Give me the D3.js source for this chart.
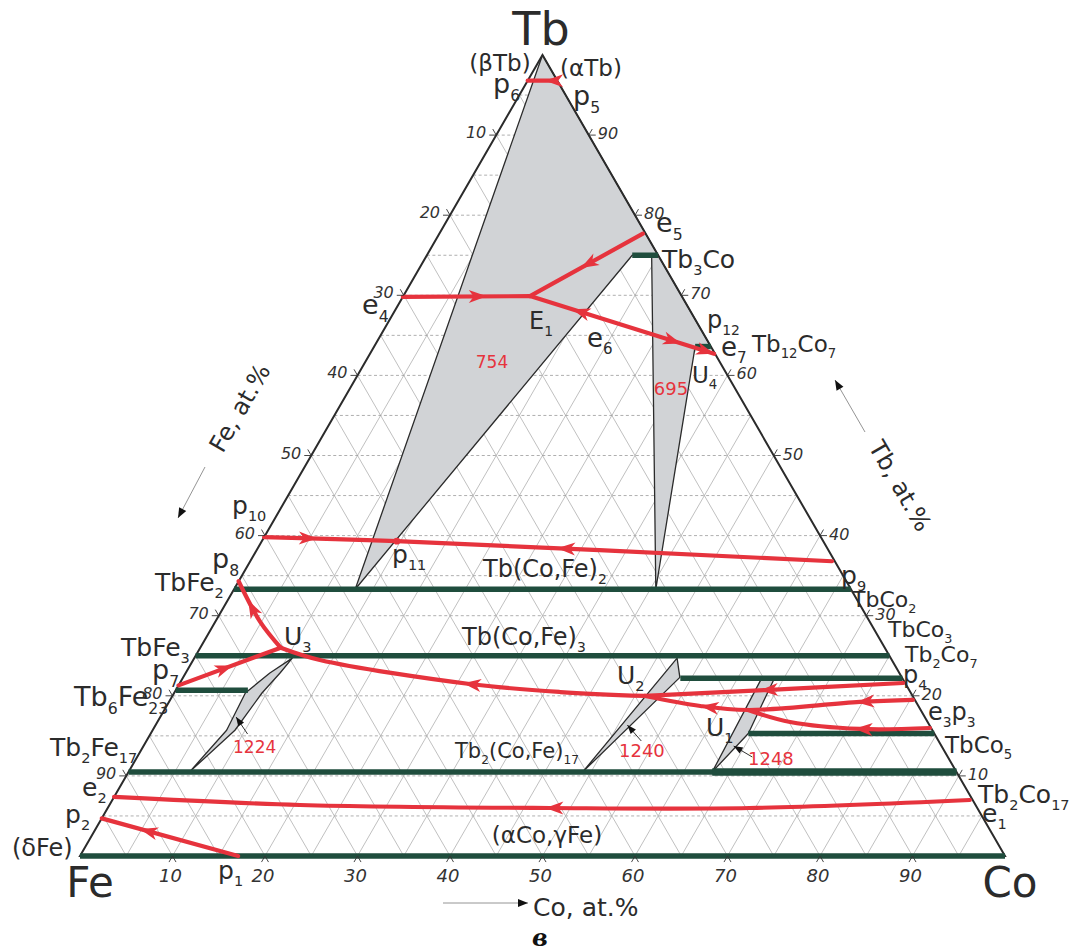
<!DOCTYPE html>
<html>
<head>
<meta charset="utf-8">
<script src="https://cdn.jsdelivr.net/npm/d3@7"></script>
<style>
  body { margin: 0; background: #fff; }
  svg { display: block; }
</style>
</head>
<body>
<svg id="chart" width="1080" height="952"></svg>
<script>
// Tb–Fe–Co ternary diagram: liquidus projection.
// Every composition is written as [Co at.%, Tb at.%]; Fe is the remainder.

const gridStep = 5;
const coTicks = [10, 20, 30, 40, 50, 60, 70, 80, 90];   // bottom edge, Co at.%
const feTicks = [10, 20, 30, 40, 50, 60, 70, 80, 90];   // left edge, Fe at.%
const tbTicks = [90, 80, 70, 60, 50, 40, 30, 20, 10];   // right edge, Tb at.%

// Phases and their extent across the section: Tb level, Co range
const tieLines = [
  { tb: 0,    co0: 0,    co1: 100 },   // (αCo,γFe)
  { tb: 75,   co0: 22.2, co1: 25 },    // Tb3Co
  { tb: 63.6, co0: 34.7, co1: 36.4 },  // Tb12Co7
  { tb: 33.3, co0: 0,    co1: 66.7 },  // Tb(Co,Fe)2
  { tb: 25,   co0: 0,    co1: 75 },    // Tb(Co,Fe)3
  { tb: 22.2, co0: 53.8, co1: 77.8 },  // Tb2Co7
  { tb: 20.7, co0: 0,    co1: 7.8 },   // Tb6Fe23
  { tb: 15.3, co0: 64.6, co1: 84.7 },  // TbCo5
  { tb: 10.5, co0: 0,    co1: 89.5 }   // Tb2(Co,Fe)17
];
const tieLinesHeavy = [
  { tb: 10.5, co0: 63.1, co1: 89.5 }
];

// Three-phase fields with their invariant temperatures
const field754  = [[0, 100], [25, 75], [22.2, 75], [13.1, 33.3]];
const field695  = [[24.3, 75], [25, 75], [36.4, 63.6], [34.7, 63.6], [45.6, 33.3]];
const field1224 = [[6.6, 10.5], [8.0, 15.7], [7.7, 20.35], [9.1, 22.85], [10.6, 24.7],
                   [10.2, 22.85], [9.5, 20.35], [8.9, 15.7]];
const field1240 = [[49.1, 10.5], [52.2, 24.7], [53.7, 22.3]];
const field1248 = [[63.1, 10.5], [62.6, 22.2], [64.0, 22.0], [64.6, 15.3]];
const fields = [field754, field695, field1224, field1240, field1248];

// Monovariant liquidus valleys
const valleys = {
  p5p6:  [[2.9, 96.8], [0, 96.8]],
  e5E1:  [[22.0, 77.7], [13.7, 69.9]],
  e4E1:  [[0, 69.8], [13.7, 69.9]],
  E1e7:  [[13.7, 69.9], [37.2, 62.7]],
  p10p9: [[0, 39.8], [14.6, 39.3], [62.9, 36.8]],
  U3p8:  [[8.7, 26.0], [4.9, 29.2], [0, 34.3]],
  p7U3:  [[0, 21.3], [8.7, 26.0]],
  U3U2:  [[8.7, 26.0], [13.7, 24.47], [31.4, 21.47], [41.7, 20.47], [51.1, 19.98]],
  U2p4:  [[51.1, 19.98], [63.7, 20.72], [78.2, 21.6]],
  U2e3:  [[51.1, 19.98], [57.7, 18.73], [63.1, 18.23], [74.7, 19.23], [80.3, 19.48]],
  U1p3:  [[63.1, 18.23], [68.4, 16.73], [76.4, 15.86], [83.9, 15.98]],
  e2e1:  [[0, 7.37], [20.6, 6.37], [47.8, 5.99], [69.4, 5.99], [92.7, 6.99]],
  p1p2:  [[17.1, 0], [0, 4.7]]
};

// Direction marks: valley, fraction of its length, +1 along / -1 against its order
const valleyArrows = [
  ['p5p6', 0.35, 1],
  ['e5E1', 0.55, 1],
  ['e4E1', 0.66, 1],
  ['E1e7', 0.23, -1],
  ['E1e7', 0.82, 1],
  ['E1e7', 1.0, 1],
  ['p10p9', 0.093, 1],
  ['p10p9', 0.516, -1],
  ['U3p8', 0.73, 1],
  ['p7U3', 0.53, 1],
  ['U3U2', 0.505, -1],
  ['U2p4', 0.445, -1],
  ['U2e3', 0.21, -1],
  ['U2e3', 0.79, -1],
  ['U1p3', 0.59, -1],
  ['e2e1', 0.504, -1],
  ['p1p2', 0.72, 1]
];

const pointP11 = [14.6, 39.3];

// Callouts from the temperature labels to their narrow fields: [tail, tip]
const callouts = [
  [[10.5, 15.23], [8.2, 17.35]],
  [[53.5, 14.36], [51.0, 16.35]],
  [[66.5, 12.36], [63.8, 13.73]]
];

// ---------------------------------------------------------------
const svg = d3.select('#chart');
const X = d3.scaleLinear().domain([0, 100]).range([80, 1005]);
const Y = d3.scaleLinear().domain([0, 100]).range([856, 55]);
const proj = ([co, tb]) => [X(co + tb / 2), Y(tb)];

const RED = '#e6333d', GREEN = '#1f4d3d', GREY = '#d1d3d6', INK = '#2b2b2b';
const FONT = '"DejaVu Sans", "Noto Sans", sans-serif';

const line = d3.line().x(d => proj(d)[0]).y(d => proj(d)[1]);
const smooth = d3.line().x(d => proj(d)[0]).y(d => proj(d)[1]).curve(d3.curveCatmullRom.alpha(0.5));

// grid
const grid = svg.append('g');
for (let k = gridStep; k < 100; k += gridStep) {
  grid.append('path').attr('d', line([[0, k], [100 - k, k]]))
    .attr('stroke', '#9a9a9a').attr('stroke-width', 0.8).attr('stroke-dasharray', '3,2.5').attr('fill', 'none');
  grid.append('path').attr('d', line([[k, 0], [k, 100 - k]]))
    .attr('stroke', '#b0b0b0').attr('stroke-width', 0.8).attr('fill', 'none');
  grid.append('path').attr('d', line([[100 - k, 0], [0, 100 - k]]))
    .attr('stroke', '#b0b0b0').attr('stroke-width', 0.8).attr('fill', 'none');
}

// three-phase fields
svg.append('g').selectAll('path').data(fields).join('path')
  .attr('d', d => line(d) + 'Z')
  .attr('fill', GREY).attr('stroke', INK).attr('stroke-width', 1.3).attr('stroke-linejoin', 'round');

// triangle outline
svg.append('path').attr('d', line([[0, 0], [100, 0], [0, 100]]) + 'Z')
  .attr('fill', 'none').attr('stroke', INK).attr('stroke-width', 2).attr('stroke-linejoin', 'miter');

// phase tie lines
svg.append('g').selectAll('path').data(tieLines).join('path')
  .attr('d', d => line([[d.co0, d.tb], [d.co1, d.tb]]))
  .attr('stroke', GREEN).attr('stroke-width', 5.5).attr('fill', 'none');
svg.append('g').selectAll('path').data(tieLinesHeavy).join('path')
  .attr('d', d => line([[d.co0, d.tb], [d.co1, d.tb]]))
  .attr('stroke', GREEN).attr('stroke-width', 7.5).attr('fill', 'none');

// liquidus valleys
const valleyPaths = {};
const vg = svg.append('g');
Object.entries(valleys).forEach(([name, pts]) => {
  valleyPaths[name] = vg.append('path').attr('d', smooth(pts))
    .attr('stroke', RED).attr('stroke-width', 4.2).attr('fill', 'none')
    .attr('stroke-linecap', 'round').attr('stroke-linejoin', 'round');
});
svg.append('circle').attr('cx', proj(pointP11)[0]).attr('cy', proj(pointP11)[1])
  .attr('r', 3.4).attr('fill', RED);

const head = 'M0,0 L-18,-6.5 L-13,0 L-18,6.5 Z';
svg.append('g').selectAll('path').data(valleyArrows).join('path')
  .attr('d', head).attr('fill', RED)
  .attr('transform', ([name, f, dir]) => {
    const node = valleyPaths[name].node();
    const L = node.getTotalLength();
    const s = Math.max(0, Math.min(L, f * L));
    const p = node.getPointAtLength(s);
    let q = node.getPointAtLength(Math.max(0, Math.min(L, s - dir * 2)));
    let a = Math.atan2(p.y - q.y, p.x - q.x);
    if (p.x === q.x && p.y === q.y) {
      q = node.getPointAtLength(Math.max(0, Math.min(L, s + dir * 2)));
      a = Math.atan2(q.y - p.y, q.x - p.x) + Math.PI;
    }
    return `translate(${p.x},${p.y}) rotate(${a * 180 / Math.PI})`;
  });

// callouts
const cg = svg.append('g');
callouts.forEach(([tail, tip]) => {
  const [x0, y0] = proj(tail), [x1, y1] = proj(tip);
  cg.append('line').attr('x1', x0).attr('y1', y0).attr('x2', x1).attr('y2', y1)
    .attr('stroke', '#333').attr('stroke-width', 1);
  const a = Math.atan2(y1 - y0, x1 - x0) * 180 / Math.PI;
  cg.append('path').attr('d', 'M0,0 L-9,-3.5 L-9,3.5 Z').attr('fill', '#111')
    .attr('transform', `translate(${x1},${y1}) rotate(${a})`);
});

// axis ticks and numbers
const tg = svg.append('g').attr('stroke', '#333').attr('stroke-width', 0.9).attr('fill', 'none');
const tl = svg.append('g').attr('font-family', FONT).attr('font-style', 'italic')
  .attr('fill', '#333');
const c60 = Math.cos(Math.PI / 3) * 7, s60 = Math.sin(Math.PI / 3) * 7;
coTicks.forEach(v => {
  const [x, y] = proj([v, 0]);
  tg.append('path').attr('d', `M${x - c60},${y + s60}L${x},${y}L${x + c60},${y + s60}`);
  tl.append('text').attr('x', x - 2).attr('y', y + 26).attr('text-anchor', 'middle')
    .attr('font-size', 18).text(v);
});
feTicks.forEach(v => {
  const [x, y] = proj([0, 100 - v]);
  tg.append('path').attr('d', `M${x - c60},${y - s60}L${x},${y}L${x - 7},${y}`);
  tl.append('text').attr('x', x - 10).attr('y', y + 3).attr('text-anchor', 'end')
    .attr('font-size', 16).text(v);
});
tbTicks.forEach(v => {
  const [x, y] = proj([100 - v, v]);
  tg.append('path').attr('d', `M${x + c60},${y - s60}L${x},${y}L${x + 7},${y}`);
  tl.append('text').attr('x', x + 9).attr('y', y + 4).attr('text-anchor', 'start')
    .attr('font-size', 16).text(v);
});

// text with _{sub} and ^{sup} parts
function rich(sel, str) {
  const fs = parseFloat(sel.attr('font-size'));
  const parts = str.split(/(_\{[^}]*\}|\^\{[^}]*\})/).filter(s => s.length);
  let off = 0;
  parts.forEach(p => {
    let target = 0, txt = p, small = false;
    if (p.startsWith('_{')) { target = 0.28; txt = p.slice(2, -1); small = true; }
    else if (p.startsWith('^{')) { target = -0.45; txt = p.slice(2, -1); small = true; }
    const t = sel.append('tspan').attr('dy', ((target - off) * fs).toFixed(2)).text(txt);
    if (small) t.attr('font-size', (fs * 0.58).toFixed(1));
    off = target;
  });
}

// labels: text, x, y, size, anchor, colour
const labelLayout = [
  ['Tb', 541, 45, 46, 'middle'],
  ['Fe', 90, 897, 42, 'middle'],
  ['Co', 1010, 897, 42, 'middle'],
  ['(βTb)', 500, 71, 23, 'middle'],
  ['(αTb)', 591, 76, 23, 'middle'],
  ['p_{6}', 493, 93, 27],
  ['p_{5}', 573, 105, 27],
  ['e_{5}', 656, 232, 27],
  ['Tb_{3}Co', 662, 268, 25],
  ['e_{4}', 362, 314, 27],
  ['E_{1}', 529, 329, 24],
  ['e_{6}', 587, 347, 26],
  ['754', 492, 368, 17, 'middle', RED],
  ['p_{12}', 707, 328, 24],
  ['e_{7}', 721, 356, 26],
  ['Tb_{12}Co_{7}', 752, 352, 23],
  ['U_{4}', 692, 383, 23],
  ['695', 671, 395, 18, 'middle', RED],
  ['p_{10}', 232, 514, 25],
  ['p_{11}', 392, 563, 25],
  ['Tb(Co,Fe)_{2}', 483, 577, 24],
  ['p_{9}', 841, 584, 25],
  ['p_{8}', 212, 568, 27],
  ['TbFe_{2}', 155, 591, 25],
  ['TbCo_{2}', 852, 607, 22],
  ['U_{3}', 284, 645, 25],
  ['TbFe_{3}', 121, 656, 25],
  ['Tb(Co,Fe)_{3}', 462, 645, 24],
  ['TbCo_{3}', 888, 637, 22],
  ['Tb_{2}Co_{7}', 905, 662, 22],
  ['p_{7}', 152, 679, 27],
  ['p_{4}', 903, 683, 24],
  ['U_{2}', 617, 684, 25],
  ['Tb_{6}Fe_{23}', 74, 706, 27],
  ['e_{3}p_{3}', 928, 720, 24],
  ['TbCo_{5}', 945, 753, 23],
  ['U_{1}', 706, 736, 25],
  ['1224', 233, 753, 17, 'start', RED],
  ['1240', 619, 757, 18, 'start', RED],
  ['1248', 748, 765, 18, 'start', RED],
  ['Tb_{2}Fe_{17}', 50, 756, 25],
  ['Tb_{2}(Co,Fe)_{17}', 455, 758, 21],
  ['e_{2}', 82, 796, 25],
  ['Tb_{2}Co_{17}', 978, 803, 25],
  ['e_{1}', 982, 822, 25],
  ['p_{2}', 65, 823, 25],
  ['(δFe)', 12, 856, 24],
  ['(αCo,γFe)', 547, 843, 23, 'middle'],
  ['p_{1}', 218, 879, 25],
  ['Co, at.%', 533, 916, 25]
];
const lg = svg.append('g').attr('font-family', FONT).attr('fill', INK);
labelLayout.forEach(([txt, x, y, fs, anchor, col]) => {
  const t = lg.append('text').attr('x', x).attr('y', y).attr('font-size', fs)
    .attr('text-anchor', anchor || 'start');
  if (col) t.attr('fill', col);
  rich(t, txt);
});

// rotated axis titles
lg.append('text').attr('font-size', 24).attr('text-anchor', 'middle')
  .attr('transform', 'translate(247,412) rotate(-60)').text('Fe, at.%');
lg.append('text').attr('font-size', 24).attr('text-anchor', 'middle')
  .attr('transform', 'translate(893,490) rotate(60)').text('Tb, at.%');

// axis direction arrows
const axisArrows = [[[205, 467], [178, 518]], [[865, 432], [835, 380]], [[443, 903], [528, 903]]];
axisArrows.forEach(([a, b]) => {
  lg.append('line').attr('x1', a[0]).attr('y1', a[1]).attr('x2', b[0]).attr('y2', b[1])
    .attr('stroke', '#888').attr('stroke-width', 0.9);
  const ang = Math.atan2(b[1] - a[1], b[0] - a[0]) * 180 / Math.PI;
  lg.append('path').attr('d', 'M0,0 L-10,-4 L-10,4 Z').attr('fill', '#111')
    .attr('transform', `translate(${b[0]},${b[1]}) rotate(${ang})`);
});

// panel letter
svg.append('text').attr('x', 540).attr('y', 946).attr('text-anchor', 'middle')
  .attr('font-family', '"DejaVu Serif", "Liberation Serif", serif')
  .attr('font-style', 'italic').attr('font-weight', 'bold').attr('font-size', 24)
  .attr('fill', '#111').text('в');
</script>
</body>
</html>
